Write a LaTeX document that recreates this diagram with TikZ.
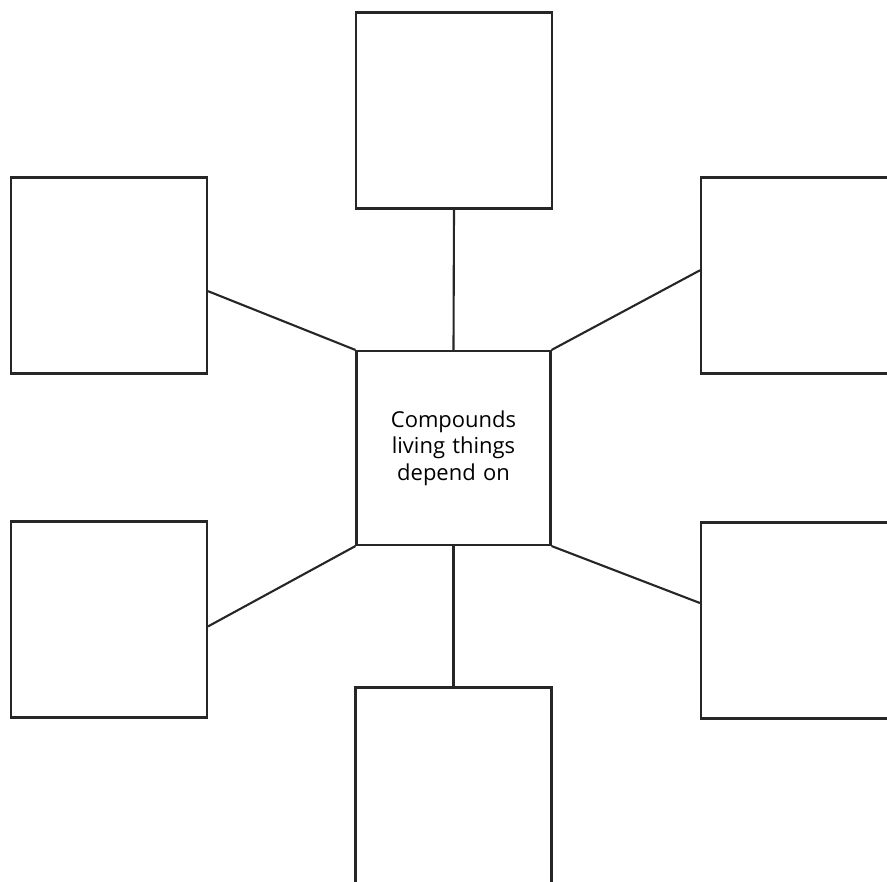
\documentclass[tikz,border=0pt]{standalone}
\usepackage{fontspec}
\setsansfont{Open Sans}
\usetikzlibrary{positioning}

\begin{document}
\begin{tikzpicture}[x=0.02cm, y=-0.02cm,
    line width=1.2pt, draw=black!85,
    every node/.style={font=\sffamily\fontsize{12.5}{15}\selectfont},
    answerbox/.style={draw, rectangle, minimum width=3.92cm, minimum height=3.92cm},
    mainbox/.style={draw, rectangle, minimum width=3.88cm, minimum height=3.88cm,
      align=center, text width=3.4cm}]
    \clip (0,0) rectangle (887,882);
    \useasboundingbox (0,0) rectangle (887,882);
    \node[mainbox] (c) at (453.5,448) {Compounds\\living things\\depend on};
    \node[answerbox] (top) at (454,110.5) {};
    \node[answerbox] (bot) at (453.5,785.5) {};
    \node[answerbox] (lu) at (109,275.5) {};
    \node[answerbox] (ll) at (109,619.5) {};
    \node[answerbox] (ru) at (799,275.5) {};
    \node[answerbox] (rl) at (799,620.5) {};
    \draw (c.north) -- (top.south);
    \draw (c.south) -- (bot.north);
    \draw (c.north west) -- (lu.-9.7);
    \draw (c.south west) -- (ll.-4.3);
    \draw (c.north east) -- (ru.177.4);
    \draw (c.south east) -- (rl.170.3);
\end{tikzpicture}
\end{document}
